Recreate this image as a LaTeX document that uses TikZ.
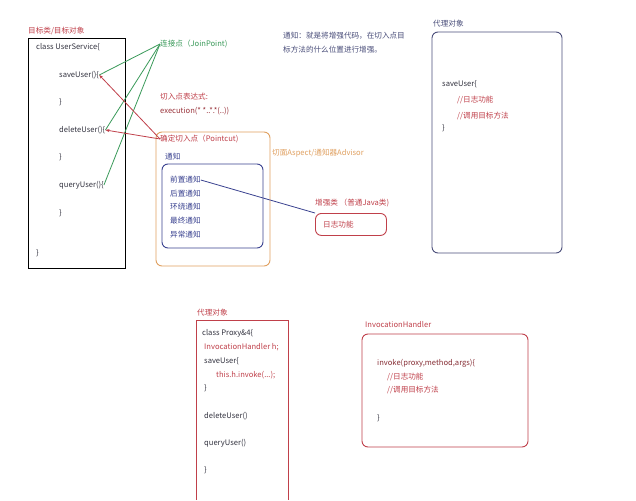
\documentclass[tikz,border=0pt]{standalone}
\usepackage{fontspec}
\usetikzlibrary{arrows.meta}
\setmainfont{Noto Sans CJK SC}
\definecolor{cred}{HTML}{C0404A}
\definecolor{cgreen}{HTML}{3A9A5A}
\definecolor{cblue}{HTML}{3A4290}
\definecolor{corange}{HTML}{E0A060}
\definecolor{cdark}{HTML}{333340}
\definecolor{cslate}{HTML}{4A4E7A}
\begin{document}
\begin{tikzpicture}[x=1pt,y=-1pt,
  txt/.style={anchor=west,inner sep=0pt,font=\fontsize{7.6}{8}\selectfont,text=cdark},
  rtxt/.style={txt,text=cred},
  btxt/.style={txt,text=cblue},
  box/.style={line width=0.9pt},
  rbox/.style={box,rounded corners=6pt},
  gline/.style={cgreen,line width=0.8pt},
  rline/.style={cred,line width=0.8pt,-{Stealth[length=4pt,width=3pt]}},
]
\useasboundingbox[fill=white] (0,0) rectangle (636,500);
% target class
\node[rtxt] (tl) at (28,31) {目标类/目标对象};
\draw[box,black] (28,38) rectangle (125,268);
\node[txt] (cls) at (36,47) {class UserService\{};
\node[txt] (save) at (59,75) {saveUser()\{};
\node[txt] (c1) at (59,102) {\}};
\node[txt] (del) at (59,130) {deleteUser()\{};
\node[txt] (c2) at (59,157) {\}};
\node[txt] (qry) at (59,185) {queryUser()\{};
\node[txt] (c3) at (59,213) {\}};
\node[txt] (c4) at (36,253) {\}};
% joinpoint
\node[txt,text=cgreen] (jp) at (160,44) {连接点（JoinPoint)};
\draw[gline] (jp.west) -- (save.east);
\draw[gline] (jp.west) -- (del.east);
\draw[gline] (jp.west) -- (qry.east);
% notice
\node[txt,text=cslate] (n1) at (283,36) {通知：就是将增强代码，在切入点目};
\node[txt,text=cslate] (n2) at (283,50) {标方法的什么位置进行增强。};
% pointcut expression
\node[rtxt] (pe1) at (160,97) {切入点表达式:};
\node[rtxt,text=cred!80!black] (pe2) at (160,111) {execution(* *..*.*(..))};
% aspect box
\draw[rbox,corange] (156,132) rectangle (270,266);
\node[rtxt] (pc) at (160,139) {确定切入点（Pointcut)};
\draw[rline] (pc.west) -- (save.east);
\draw[rline] (pc.west) -- (del.east);
\node[btxt] (tz) at (165,157) {通知};
\draw[rbox,cblue] (162,164) rectangle (263,248);
\node[btxt] (a1) at (170,180) {前置通知};
\node[btxt] (a2) at (170,194) {后置通知};
\node[btxt] (a3) at (170,207) {环绕通知};
\node[btxt] (a4) at (170,221) {最终通知};
\node[btxt] (a5) at (170,235) {异常通知};
\node[txt,text=corange] (asp) at (272,153) {切面Aspect/通知器Advisor};
% enhancement class
\node[rtxt] (enh) at (315,203) {增强类 （普通Java类)};
\node[rbox,draw=cred,minimum width=71pt,minimum height=22pt,anchor=north west,inner sep=0pt] (log) at (315,213) {};
\node[rtxt] (logt) at (323,225) {日志功能};
\draw[cblue,line width=0.8pt] (a1.east) -- (log.north west);
% proxy object (right)
\node[txt,text=cslate] (po) at (433,24) {代理对象};
\draw[rbox,cslate] (432,32) rectangle (562,253);
\node[txt] (ps) at (442,84) {saveUser\{};
\node[rtxt] (pl1) at (457,100) {//日志功能};
\node[rtxt] (pl2) at (457,116) {//调用目标方法};
\node[txt] (pc1) at (442,128) {\}};
% bottom proxy
\node[rtxt] (bp) at (197,313) {代理对象};
\draw[box,cred] (196,320) -- (288,320) -- (288,500) (196,320) -- (196,500);
\node[txt] (b1) at (202,333) {class Proxy\&4\{};
\node[rtxt] (b2) at (204,347) {InvocationHandler h;};
\node[txt] (b3) at (204,361) {saveUser\{};
\node[rtxt] (b4) at (216,375) {this.h.invoke(...);};
\node[txt] (b5) at (204,388) {\}};
\node[txt] (b6) at (204,416) {deleteUser()};
\node[txt] (b7) at (204,443) {queryUser()};
\node[txt] (b8) at (204,470) {\}};
% invocation handler
\node[rtxt] (ih) at (365,325) {InvocationHandler};
\draw[rbox,cred] (362,334) rectangle (528,447);
\node[txt,text=cred!70!black] (i1) at (377,363) {invoke(proxy,method,args)\{};
\node[rtxt] (i2) at (387,377) {//日志功能};
\node[rtxt] (i3) at (387,390) {//调用目标方法};
\node[txt] (i4) at (377,418) {\}};
\end{tikzpicture}
\end{document}
